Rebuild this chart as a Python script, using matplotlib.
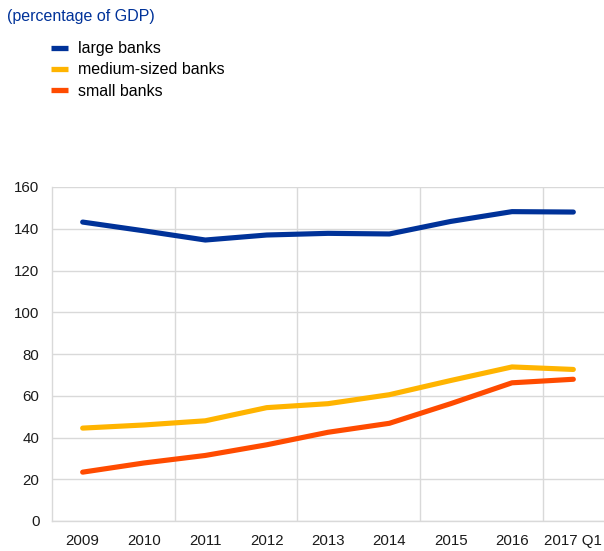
import matplotlib.pyplot as plt
from matplotlib.lines import Line2D

# data (percentage of GDP)
periods = ["2009", "2010", "2011", "2012", "2013", "2014", "2015", "2016", "2017 Q1"]
large_banks = [143.2, 139.0, 134.6, 137.0, 137.8, 137.5, 143.5, 148.2, 148.0]
medium_banks = [44.5, 46.0, 48.0, 54.3, 56.2, 60.5, 67.3, 73.8, 72.6]
small_banks = [23.4, 27.8, 31.4, 36.5, 42.5, 46.8, 56.2, 66.2, 67.9]

series_names = ["large banks", "medium-sized banks", "small banks"]
colors = ["#003299", "#FFB400", "#FF4B00"]

plt.rcParams['font.family'] = ['Liberation Sans', 'DejaVu Sans']

fig = plt.figure(figsize=(6.04, 5.51), dpi=100)
ax = fig.add_axes([52 / 604, 1 - 521 / 551, 552 / 604, 334 / 551])

x = list(range(len(periods)))
for vals, col in zip([large_banks, medium_banks, small_banks], colors):
    ax.plot(x, vals, color=col, linewidth=3.7, solid_capstyle='round', solid_joinstyle='round')

ax.set_xlim(-0.5, len(periods) - 0.5)
ax.set_ylim(0, 160)
ax.set_yticks(range(0, 161, 20))
ax.set_xticks(x)
ax.set_xticklabels(periods, va='baseline')

# vertical gridlines every two periods, on the category boundaries
ax.set_xticks([1.5, 3.5, 5.5, 7.5], minor=True)
ax.grid(True, which='minor', axis='x', color='#d9d9d9', linewidth=1)
ax.grid(True, which='major', axis='y', color='#d9d9d9', linewidth=1)
ax.set_axisbelow(True)

for side in ['top', 'right']:
    ax.spines[side].set_visible(False)
for side in ['left', 'bottom']:
    ax.spines[side].set_color('#d9d9d9')
    ax.spines[side].set_linewidth(1)

ax.tick_params(which='both', length=0, labelsize=10.8, colors='#1a1a1a')
ax.tick_params(axis='x', pad=17.3)
ax.tick_params(axis='y', pad=9)

fig.text(7 / 604, 1 - 17 / 551, "(percentage of GDP)", color='#003299', fontsize=11.5,
         ha='left', va='center')

handles = [Line2D([0], [0], color=c, linewidth=3.8, solid_capstyle='butt') for c in colors]
fig.legend(handles, series_names, loc='upper left', bbox_to_anchor=(44.6 / 604, 1 - 35 / 551),
           frameon=False, fontsize=11.5, handlelength=1.06, handletextpad=0.63,
           labelspacing=0.38, borderaxespad=0)

plt.savefig('out.png', dpi=100)
